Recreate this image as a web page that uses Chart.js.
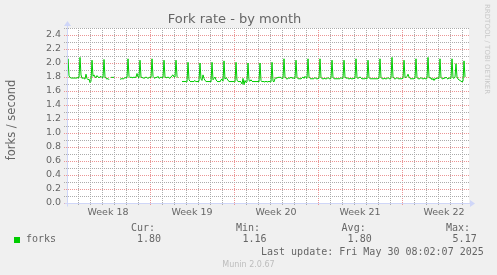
<!DOCTYPE html>
<html>
<head>
<meta charset="utf-8">
<title>Fork rate - by month</title>
<style>
  html, body { margin: 0; padding: 0; background: #F0F0F0; }
  #wrap { position: relative; width: 497px; height: 275px; overflow: hidden; }
  #chart { position: absolute; left: 0; top: 0; }
  .mono { position: absolute; font: 10px 'DejaVu Sans Mono', monospace; color: #666; line-height: 12px; white-space: pre; }
  #ytitle { position: absolute; left: 11px; top: 120px; transform: translate(-50%, -50%) rotate(-90deg);
            font: 11.5px 'DejaVu Sans', sans-serif; color: #666; line-height: 14px; white-space: nowrap; }
  #rrd { position: absolute; left: 482px; top: 4px; writing-mode: vertical-rl; font: 7px 'DejaVu Sans', sans-serif;
         color: #c8c8c8; line-height: 9px; white-space: nowrap; }
  #footer { position: absolute; left: 0; top: 259.5px; width: 497px; text-align: center;
            font: 8px 'DejaVu Sans', sans-serif; color: #bdbdbd; line-height: 10px; }
  .swatch { position: absolute; left: 14px; top: 237px; width: 6px; height: 6px; background: #00CC00; }
</style>
<script src="https://cdn.jsdelivr.net/npm/chart.js@4.4.1/dist/chart.umd.min.js"></script>
</head>
<body>
<div id="wrap">
  <canvas id="chart" width="497" height="275"></canvas>
  <div id="ytitle">forks / second</div>
  <div id="rrd">RRDTOOL / TOBI OETIKER</div>
  <div id="footer">Munin 2.0.67</div>
  <div class="swatch"></div>
</div>
<script>
// forks per second, one value every 2 hours, one row per day (null = no data)
const forks = [
  1.80, 2.06, 1.82, 1.79, 1.79, 1.78, 1.79, 1.78, 1.79, 1.78, 1.79, 1.79,
  1.79, 2.08, 1.83, 1.78, 1.79, 1.78, 1.77, 1.84, 1.78, 1.76, 1.77, 1.72,
  1.74, 2.04, 1.81, 1.83, 1.80, 1.79, 1.82, 1.80, 1.79, 1.80, 1.81, 1.79,
  1.79, 2.05, 1.80, 1.78, 1.77, 1.78, 1.76, null, 1.79, 1.80, 1.79, 1.80,
  null, null, null, null, null, 1.77, 1.77, 1.78, 1.77, 1.78, 1.79, 1.79,
  1.79, 2.06, 1.81, 1.79, 1.80, 1.79, 1.79, 1.80, 1.79, 1.80, 1.85, 1.80,
  1.79, 2.04, 1.80, 1.79, 1.79, 1.78, 1.79, 1.80, 1.79, 1.78, 1.79, 1.80,
  1.79, 2.06, 1.81, 1.79, 1.78, 1.80, 1.79, 1.81, 1.78, 1.79, 1.80, 1.79,
  1.79, 2.04, 1.80, 1.79, 1.79, 1.80, 1.79, 1.78, 1.80, 1.82, 1.83, 1.80,
  1.80, 2.04, 1.81, 1.79, null, null, null, 1.73, 1.74, 1.73, 1.74, 1.73,
  1.73, 2.01, 1.76, 1.74, 1.73, 1.74, 1.73, 1.74, 1.75, 1.73, 1.74, 1.73,
  1.74, 2.00, 1.77, 1.75, 1.83, 1.78, 1.75, 1.74, 1.73, 1.74, 1.73, 1.74,
  1.73, 2.01, 1.76, 1.78, 1.80, 1.76, 1.74, 1.73, 1.74, 1.73, 1.76, 1.77,
  1.74, 2.03, 1.77, 1.79, 1.78, 1.75, 1.74, 1.73, 1.74, 1.73, 1.74, 1.73,
  1.73, 2.01, 1.75, 1.74, 1.73, 1.74, 1.73, 1.70, 1.78, 1.69, 1.75, 1.72,
  1.73, 2.00, 1.75, 1.74, 1.76, 1.74, 1.73, 1.74, 1.73, 1.74, 1.73, 1.74,
  1.73, 2.00, 1.75, 1.73, 1.74, 1.73, 1.73, 1.74, 1.73, 1.73, 1.74, 1.73,
  1.73, 2.01, 1.74, 1.73, 1.78, 1.79, 1.78, 1.80, 1.79, 1.80, 1.79, 1.78,
  1.78, 2.06, 1.80, 1.78, 1.77, 1.78, 1.79, 1.78, 1.80, 1.78, 1.79, 1.78,
  1.78, 2.04, 1.79, 1.78, 1.77, 1.78, 1.77, 1.79, 1.80, 1.78, 1.81, 1.79,
  1.78, 2.06, 1.80, 1.78, 1.77, 1.78, 1.77, 1.78, 1.79, 1.78, 1.77, 1.78,
  1.78, 2.06, 1.79, 1.78, 1.77, 1.78, 1.78, 1.77, 1.78, 1.79, 1.78, 1.77,
  1.78, 2.04, 1.79, 1.78, 1.77, 1.78, 1.77, 1.78, 1.77, 1.78, 1.79, 1.78,
  1.78, 2.04, 1.80, 1.78, 1.79, 1.78, 1.77, 1.78, 1.78, 1.77, 1.78, 1.78,
  1.78, 2.06, 1.79, 1.78, 1.79, 1.80, 1.79, 1.77, 1.78, 1.77, 1.78, 1.78,
  1.77, 2.04, 1.79, 1.78, 1.77, 1.78, 1.77, 1.78, 1.77, 1.78, 1.77, 1.78,
  1.78, 2.06, 1.79, 1.78, 1.77, 1.78, 1.78, 1.77, 1.78, 1.79, 1.78, 1.77,
  1.78, 2.08, 1.80, 1.78, 1.77, 1.78, 1.79, 1.78, 1.77, 1.78, 1.77, 1.78,
  1.78, 2.04, 1.80, 1.79, 1.81, 1.84, 1.80, 1.78, 1.77, 1.78, 1.77, 1.78,
  1.78, 2.06, 1.79, 1.78, 1.77, 1.78, 1.79, 1.78, 1.77, 1.78, 1.78, 1.77,
  1.78, 2.08, 1.80, 1.78, 1.79, 1.76, 1.78, 1.75, 1.78, 1.77, 1.79, 1.78,
  1.78, 2.06, 1.79, 1.78, 1.77, 1.79, 1.78, 1.80, 1.78, 1.77, 1.79, 1.78,
  1.78, 2.06, 1.79, 1.78, 1.80, 1.99, 1.80, 1.77, 1.76, 1.75, 1.74, 1.73,
  1.74, 2.03, 1.80
];

// time axis in hours from the left edge of the graph
const STEP_HOURS = 2;
const RANGE_HOURS = 804;
const weekStartHours = [-2, 166, 334, 502, 670];
const weekLabels = ['Week 18', 'Week 19', 'Week 20', 'Week 21', 'Week 22'];

const yTickLabels = ['0.0', '0.2', '0.4', '0.6', '0.8', '1.0', '1.2', '1.4', '1.6', '1.8', '2.0', '2.2', '2.4'];
const Y_MAX = 2.5;

// legend block under the graph
const legendHeads = ['Cur:', 'Min:', 'Avg:', 'Max:'];
const legendValues = ['1.80', '1.16', '1.80', '5.17'];
const seriesName = 'forks';
const lastUpdate = 'Last update: Fri May 30 08:02:07 2025';

document.addEventListener('DOMContentLoaded', function() {
  const wrap = document.getElementById('wrap');

  // legend text
  const headX = [131, 236, 341.6, 446];
  const valX = [137, 242.5, 347.6, 452.6];
  function addText(txt, x, y) {
    const d = document.createElement('div');
    d.className = 'mono';
    d.style.left = x + 'px';
    d.style.top = y + 'px';
    d.textContent = txt;
    wrap.appendChild(d);
  }
  legendHeads.forEach((h, i) => addText(h, headX[i], 221.9));
  legendValues.forEach((v, i) => addText(v, valX[i], 233.4));
  addText(seriesName, 26, 233.4);
  addText(lastUpdate, 261, 245.5);

  // grid positions (in axis units)
  const dayLines = [];
  for (let h = weekStartHours[0] + 24; h <= RANGE_HOURS; h += 24) dayLines.push(h);
  const weekCenters = weekStartHours.map(h => h + 84);
  const yLines = [];
  for (let i = 0; i <= Math.round(Y_MAX * 10); i++) yLines.push(i / 10);

  const points = forks.map((v, i) => ({ x: i * STEP_HOURS, y: v }));

  // rrdtool defaults as used by munin
  const MINOR = '#ababab';
  const MAJOR = '#eb9595';
  const AXIS = '#CFD6F8';

  // rrdtool look: white canvas, dotted grid, axes with arrows
  const rrdFrame = {
    id: 'rrdFrame',
    beforeDraw(chart) {
      const { ctx, chartArea: a } = chart;
      ctx.save();
      ctx.fillStyle = '#ffffff';
      ctx.fillRect(a.left, a.top, a.right - a.left, a.bottom - a.top);
      ctx.restore();
    },
    beforeDatasetsDraw(chart) {
      const { ctx, chartArea: a, scales } = chart;
      const top = Math.round(a.top), bottom = Math.round(a.bottom);
      const left = Math.round(a.left), right = Math.round(a.right);
      ctx.save();
      // vertical lines every day, red at week start
      dayLines.forEach(h => {
        const x = Math.round(scales.x.getPixelForValue(h));
        if (x <= left || x >= right) return;
        ctx.fillStyle = weekStartHours.includes(h) ? MAJOR : MINOR;
        for (let y = top; y <= bottom + 2; y += 2) ctx.fillRect(x, y, 1, 1);
      });
      // horizontal lines every 0.1, red every 0.2
      yLines.forEach(v => {
        const y = Math.round(scales.y.getPixelForValue(v));
        ctx.fillStyle = Math.round(v * 10) % 2 === 0 ? MAJOR : MINOR;
        for (let x = left - 3; x < right; x += 2) ctx.fillRect(x, y, 1, 1);
      });
      ctx.restore();
    },
    afterDraw(chart) {
      const { ctx, chartArea: a } = chart;
      const x0 = Math.round(a.left) + 0.5;
      const y0 = Math.round(a.bottom) + 0.5;
      ctx.save();
      ctx.strokeStyle = AXIS;
      ctx.fillStyle = AXIS;
      ctx.lineWidth = 1;
      ctx.beginPath();
      ctx.moveTo(x0, y0 + 3);
      ctx.lineTo(x0, a.top - 3);
      ctx.moveTo(x0 - 3, y0);
      ctx.lineTo(a.right + 2, y0);
      ctx.stroke();
      // arrows
      ctx.beginPath();
      ctx.moveTo(x0 - 3.5, a.top - 2);
      ctx.lineTo(x0 + 3.5, a.top - 2);
      ctx.lineTo(x0, a.top - 7);
      ctx.closePath();
      ctx.fill();
      ctx.beginPath();
      ctx.moveTo(a.right + 1, y0 - 3.5);
      ctx.lineTo(a.right + 1, y0 + 3.5);
      ctx.lineTo(a.right + 6, y0);
      ctx.closePath();
      ctx.fill();
      ctx.restore();
    }
  };

  const tickFont = { family: 'DejaVu Sans', size: 9.5 };

  new Chart(document.getElementById('chart'), {
    type: 'line',
    data: {
      datasets: [{
        label: seriesName,
        data: points,
        borderColor: '#00CC00',
        borderWidth: 1,
        pointRadius: 0,
        fill: false,
        tension: 0,
        spanGaps: false
      }]
    },
    options: {
      responsive: false,
      animation: false,
      devicePixelRatio: 1,
      layout: { padding: { left: 0, right: 28, top: 0, bottom: 52 } },
      plugins: {
        legend: { display: false },
        tooltip: { enabled: false },
        title: {
          display: true,
          text: 'Fork rate - by month',
          color: '#666',
          font: { family: 'DejaVu Sans', size: 13, weight: 'normal', lineHeight: 1.2 },
          padding: { top: 12, bottom: 0.4 }
        }
      },
      scales: {
        x: {
          type: 'linear',
          min: 0,
          max: RANGE_HOURS,
          afterFit: s => { s.height = 20; },
          afterBuildTicks: s => { s.ticks = weekCenters.map(v => ({ value: v })); },
          border: { display: false },
          grid: { display: false, drawTicks: false },
          ticks: {
            autoSkip: false,
            maxRotation: 0,
            minRotation: 0,
            padding: 4,
            color: '#666',
            font: tickFont,
            callback: v => {
              const i = weekCenters.indexOf(v);
              return i >= 0 ? weekLabels[i] : '';
            }
          }
        },
        y: {
          min: 0,
          max: Y_MAX,
          afterFit: s => { s.width = 67; },
          afterBuildTicks: s => { s.ticks = yLines.map(v => ({ value: v })); },
          border: { display: false },
          grid: { display: false, drawTicks: false },
          ticks: {
            autoSkip: false,
            padding: 6,
            color: '#666',
            font: tickFont,
            callback: v => {
              const k = Math.round(v * 10);
              return k % 2 === 0 ? (yTickLabels[k / 2] || '') : '';
            }
          }
        }
      }
    },
    plugins: [rrdFrame]
  });
});
</script>
</body>
</html>
